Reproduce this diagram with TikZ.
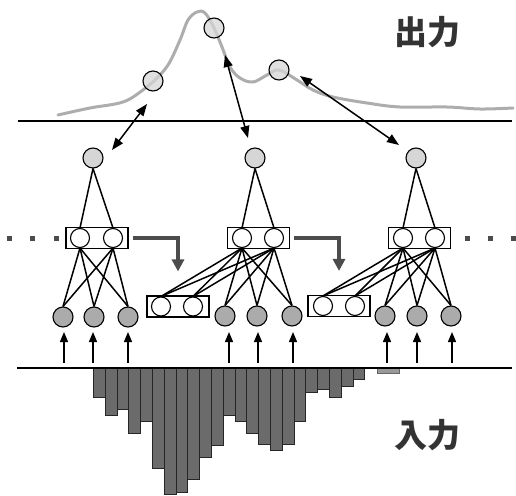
\documentclass[tikz,border=0pt]{standalone}
\usepackage{fontspec}
\newfontfamily\cjk{Noto Sans CJK JP}
\usetikzlibrary{arrows.meta}
\begin{document}
\begin{tikzpicture}[x=1pt,y=-1pt,
 every node/.style={inner sep=0pt},
 outn/.style={circle,draw,line width=1.1pt,fill=black!16,fill opacity=0.75,minimum size=20pt},
 hidn/.style={circle,draw,line width=1.1pt,fill=black!16,minimum size=20pt},
 inpn/.style={circle,draw,line width=1.1pt,fill=black!33,minimum size=20pt},
 ctxn/.style={circle,draw,line width=1.1pt,fill=white,minimum size=19pt},
 boxn/.style={draw,line width=1.1pt,minimum width=62pt,minimum height=21pt,fill=white},
 link/.style={line width=1.5pt},
 dbl/.style={line width=1.5pt,{Triangle[length=12pt,width=9pt]}-{Triangle[length=12pt,width=9pt]}},
 uparr/.style={line width=1.4pt,-{Triangle[length=10pt,width=8pt]}},
 copyarr/.style={line width=3.8pt,draw=black!70,-{Triangle[length=12pt,width=12pt]}},
 dotn/.style={fill=black!70,minimum size=5pt},
 histbar/.style={fill=black!58,draw=black!85,line width=0.6pt},
 baseline/.style={line width=1.5pt},
 lbl/.style={font=\cjk\bfseries\fontsize{33}{33}\selectfont,text=black!80}
]
\useasboundingbox (0,0) rectangle (516,495);

% histogram
\foreach \i/\b in {1/397,2/415,3/409,4/433,5/421,6/468,7/494,8/492,9/479,10/457,11/445,12/415,13/421,14/433,15/444,16/450,17/444,18/421,19/392,20/389,21/397,22/386,23/379}{
  \pgfmathsetmacro{\xa}{93.3+(\i-1)*11.8}
  \pgfmathsetmacro{\xb}{93.3+\i*11.8}
  \draw[histbar] (\xa,368) rectangle (\xb,\b);
}
\draw[fill=black!40,draw=black!60,line width=0.5pt] (377,368) rectangle (399,373);

% base lines
\draw[baseline] (18,121) -- (512,121);
\draw[baseline] (17,368) -- (512,368);

% output curve
\draw[black!32,line width=3pt,line cap=round] plot[smooth,tension=0.6] coordinates {
 (58,115) (90,108) (123,102) (143,90) (153,82) (168,65) (180,40) (188,20) (197,12) (205,13) (214,28) (222,47) (230,67) (240,78) (253,82) (267,75) (279,70) (297,80) (313,90) (333,97) (367,103) (400,107) (447,107) (480,109) (513,108)};

\node[outn] (o1) at (153,81) {};
\node[outn] (o2) at (214,28) {};
\node[outn] (o3) at (279,70) {};

% labels
\node[lbl] (tout) at (427,32) {出力};
\node[lbl] (tin) at (427,435) {入力};

% hidden top nodes
\node[hidn] (h1) at (93,158) {};
\node[hidn] (h2) at (255,158) {};
\node[hidn] (h3) at (416,158) {};

% double arrows
\coordinate (a1s) at (112,150); \coordinate (a1e) at (147,104);
\coordinate (a2s) at (248,138); \coordinate (a2e) at (225,55);
\coordinate (a3s) at (399,145); \coordinate (a3e) at (300,76);
\draw[dbl] (a1s) -- (a1e);
\draw[dbl] (a2s) -- (a2e);
\draw[dbl] (a3s) -- (a3e);

% middle boxes
\node[boxn] (b1) at (97,238) {};
\node[ctxn] (b1l) at (80,238) {};
\node[ctxn] (b1r) at (113,238) {};
\node[boxn] (b2) at (258.5,238) {};
\node[ctxn] (b2l) at (242,238) {};
\node[ctxn] (b2r) at (274,238) {};
\node[boxn] (b3) at (419.5,238) {};
\node[ctxn] (b3l) at (403,238) {};
\node[ctxn] (b3r) at (435,238) {};

% context boxes
\node[boxn] (bA) at (178,306.5) {};
\node[ctxn] (bAl) at (161,306.5) {};
\node[ctxn] (bAr) at (193,306.5) {};
\node[boxn] (bB) at (339,306) {};
\node[ctxn] (bBl) at (323,306) {};
\node[ctxn] (bBr) at (355,306) {};

% input nodes
\node[inpn] (i11) at (63,317) {};
\node[inpn] (i12) at (94,317) {};
\node[inpn] (i13) at (128,317) {};
\node[inpn] (i21) at (225,316) {};
\node[inpn] (i22) at (257,316) {};
\node[inpn] (i23) at (292,316) {};
\node[inpn] (i31) at (385,316) {};
\node[inpn] (i32) at (417,316) {};
\node[inpn] (i33) at (451,316) {};

% links hidden -> box circles
\foreach \h/\l/\r in {h1/b1l/b1r,h2/b2l/b2r,h3/b3l/b3r}{
  \draw[link] (\h.south) -- (\l.north);
  \draw[link] (\h.south) -- (\r.north);
}
% box circles -> inputs
\foreach \c in {b1l,b1r}{\foreach \t in {i11,i12,i13}{\draw[link] (\c.south) -- (\t.north);}}
\foreach \c in {b2l,b2r}{\foreach \t in {i21,i22,i23,bAl,bAr}{\draw[link] (\c.south) -- (\t.north);}}
\foreach \c in {b3l,b3r}{\foreach \t in {i31,i32,i33,bBl,bBr}{\draw[link] (\c.south) -- (\t.north);}}

% copy arrows
\draw[copyarr] ([xshift=4pt]b1.east) -| ([yshift=24pt]bA.north);
\draw[copyarr] ([xshift=4pt]b2.east) -| ([yshift=24pt]bB.north);

% dots
\foreach \n/\x in {d1/9,d2/32,d3/56,d4/467,d5/490,d6/513}{\node[dotn] (\n) at (\x,238) {};}

% up arrows
\foreach \n/\x in {u1/64,u2/93,u3/128,u4/229,u5/258,u6/293,u7/387,u8/417,u9/452}{
  \coordinate (\n s) at (\x,363);
  \coordinate (\n e) at (\x,332);
  \draw[uparr] (\n s) -- (\n e);
}
\end{tikzpicture}
\end{document}
